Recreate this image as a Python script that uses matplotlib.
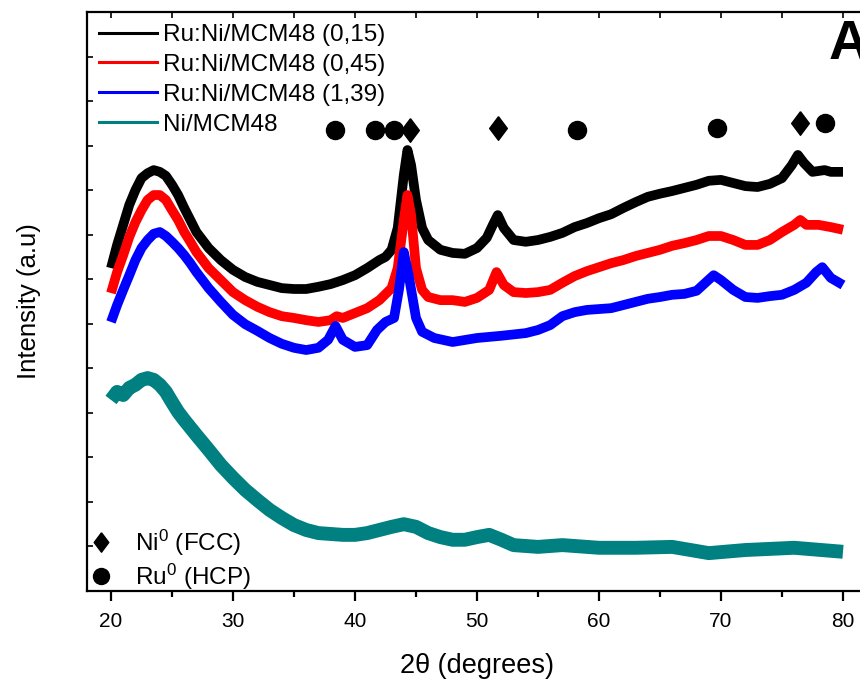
import numpy as np
import matplotlib
matplotlib.use("Agg")
import matplotlib.pyplot as plt
from matplotlib.lines import Line2D

plt.rcParams['font.family'] = ['Liberation Sans', 'DejaVu Sans']
plt.rcParams['mathtext.fontset'] = 'custom'
plt.rcParams['mathtext.rm'] = 'Liberation Sans'
plt.rcParams['mathtext.it'] = 'Liberation Sans:italic'

# --- data (2theta in degrees, intensity in a.u.) ---
x_black = [20.0, 20.5, 21.0, 21.5, 22.0, 22.5, 23.0, 23.5, 24.0, 24.5, 25.0, 25.5, 26.0,
           26.5, 27.0, 28.0, 29.0, 30.0, 31.0, 32.0, 33.0, 34.0, 35.0, 36.0, 37.0, 38.0,
           39.0, 40.0, 41.0, 42.0, 42.5, 43.0, 43.5, 44.0, 44.3, 44.6, 45.0, 45.5, 46.0,
           47.0, 48.0, 49.0, 50.0, 50.8, 51.3, 51.7, 52.2, 53.0, 54.0, 55.0, 56.0, 57.0,
           58.0, 59.0, 60.0, 61.0, 62.0, 63.0, 64.0, 65.0, 66.0, 67.0, 68.0, 69.0, 70.0,
           71.0, 72.0, 73.0, 74.0, 75.0, 75.8, 76.3, 76.8, 77.5, 78.5, 79.0, 80.0]
y_black = [7.25, 7.77, 8.22, 8.67, 9.00, 9.27, 9.38, 9.45, 9.41, 9.32, 9.12, 8.89, 8.60,
           8.33, 8.06, 7.70, 7.43, 7.21, 7.05, 6.94, 6.87, 6.80, 6.78, 6.78, 6.83, 6.89,
           6.98, 7.09, 7.25, 7.43, 7.50, 7.66, 8.15, 9.34, 9.90, 9.56, 8.78, 8.15, 7.88,
           7.66, 7.59, 7.57, 7.70, 7.93, 8.22, 8.44, 8.15, 7.88, 7.84, 7.88, 7.95, 8.04,
           8.17, 8.26, 8.37, 8.46, 8.60, 8.73, 8.85, 8.92, 8.98, 9.05, 9.12, 9.21, 9.23,
           9.16, 9.09, 9.07, 9.14, 9.27, 9.56, 9.79, 9.61, 9.41, 9.45, 9.41, 9.41]

x_red = [20.0, 20.5, 21.0, 21.5, 22.0, 22.5, 23.0, 23.5, 24.0, 24.5, 25.0, 25.5, 26.0,
         26.5, 27.0, 28.0, 29.0, 30.0, 31.0, 32.0, 33.0, 34.0, 35.0, 36.0, 37.0, 38.0,
         38.5, 39.0, 40.0, 41.0, 42.0, 43.0, 43.5, 44.0, 44.3, 44.6, 45.0, 45.5, 46.0,
         47.0, 48.0, 49.0, 50.0, 51.0, 51.6, 52.2, 53.0, 54.0, 55.0, 56.0, 57.0, 58.0,
         59.0, 60.0, 61.0, 62.0, 63.0, 64.0, 65.0, 66.0, 67.0, 68.0, 69.0, 70.0, 71.0,
         72.0, 73.0, 74.0, 75.0, 76.0, 76.5, 77.0, 78.0, 79.0, 80.0]
y_red = [6.69, 7.16, 7.54, 7.95, 8.28, 8.55, 8.78, 8.89, 8.89, 8.78, 8.55, 8.33, 8.06,
         7.84, 7.61, 7.25, 6.98, 6.71, 6.53, 6.38, 6.26, 6.17, 6.13, 6.08, 6.04, 6.08,
         6.17, 6.13, 6.24, 6.35, 6.53, 6.80, 7.25, 8.33, 8.89, 8.44, 7.25, 6.76, 6.60,
         6.53, 6.53, 6.49, 6.58, 6.76, 7.16, 6.87, 6.71, 6.69, 6.71, 6.76, 6.92, 7.07,
         7.18, 7.27, 7.36, 7.43, 7.52, 7.59, 7.66, 7.75, 7.81, 7.88, 7.97, 7.97, 7.88,
         7.77, 7.77, 7.88, 8.06, 8.22, 8.33, 8.22, 8.22, 8.17, 8.11]

x_blue = [20.0, 20.5, 21.0, 21.5, 22.0, 22.5, 23.0, 23.5, 24.0, 24.5, 25.0, 25.5, 26.0,
          26.5, 27.0, 28.0, 29.0, 30.0, 31.0, 32.0, 33.0, 34.0, 35.0, 36.0, 37.0, 37.8,
          38.4, 39.0, 40.0, 41.0, 41.8, 42.5, 43.2, 43.6, 44.0, 44.4, 45.0, 45.5, 46.5,
          48.0, 50.0, 52.0, 54.0, 55.0, 56.0, 57.0, 58.0, 59.0, 60.0, 61.0, 62.0, 63.0,
          64.0, 65.0, 66.0, 67.0, 68.0, 68.8, 69.4, 70.0, 71.0, 72.0, 73.0, 74.0, 75.0,
          76.0, 77.0, 77.8, 78.3, 79.0, 80.0]
y_blue = [6.04, 6.42, 6.76, 7.09, 7.43, 7.70, 7.88, 8.02, 8.06, 7.97, 7.84, 7.70, 7.54,
          7.36, 7.16, 6.80, 6.49, 6.20, 5.99, 5.84, 5.68, 5.55, 5.46, 5.41, 5.46, 5.64,
          5.95, 5.64, 5.48, 5.52, 5.86, 6.04, 6.13, 6.76, 7.61, 7.09, 6.13, 5.82, 5.68,
          5.59, 5.68, 5.73, 5.79, 5.86, 5.97, 6.17, 6.26, 6.31, 6.33, 6.35, 6.42, 6.49,
          6.56, 6.60, 6.65, 6.67, 6.74, 6.94, 7.09, 6.98, 6.76, 6.60, 6.58, 6.62, 6.65,
          6.76, 6.92, 7.16, 7.27, 7.03, 6.87]

x_teal = [20.0, 20.5, 21.0, 21.5, 22.0, 22.5, 23.0, 23.5, 24.0, 24.5, 25.0, 25.5, 26.0,
          27.0, 28.0, 29.0, 30.0, 31.0, 32.0, 33.0, 34.0, 35.0, 36.0, 37.0, 38.0, 39.0,
          40.0, 41.0, 42.0, 43.0, 44.0, 45.0, 46.0, 47.0, 48.0, 49.0, 50.0, 51.0, 52.0,
          53.0, 55.0, 57.0, 60.0, 63.0, 66.0, 69.0, 72.0, 76.0, 80.0]
y_teal = [4.29, 4.47, 4.40, 4.56, 4.63, 4.74, 4.78, 4.74, 4.63, 4.47, 4.24, 4.02, 3.84,
          3.50, 3.17, 2.83, 2.54, 2.27, 2.04, 1.82, 1.64, 1.48, 1.37, 1.30, 1.28, 1.26,
          1.26, 1.30, 1.37, 1.44, 1.50, 1.44, 1.30, 1.21, 1.15, 1.15, 1.21, 1.26, 1.15,
          1.03, 0.99, 1.03, 0.97, 0.97, 0.99, 0.85, 0.92, 0.97, 0.88]

labels = ['Ru:Ni/MCM48 (0,15)', 'Ru:Ni/MCM48 (0,45)', 'Ru:Ni/MCM48 (1,39)', 'Ni/MCM48']
colors = ['#000000', '#ff0000', '#0000ff', '#008080']

# reflection markers
ni_x = [44.5, 51.7, 76.5]
ni_y = [10.35, 10.40, 10.51]
ru_x = [38.4, 41.6, 43.2, 58.2, 69.7, 78.5]
ru_y = [10.35, 10.35, 10.35, 10.35, 10.40, 10.51]

diamond = [(0, 1), (0.75, 0), (0, -1), (-0.75, 0), (0, 1)]

fig = plt.figure(figsize=(8.6, 6.8), dpi=100)
ax = fig.add_axes([0.1007, 0.1309, 0.9079, 0.8515])

series = [(x_black, y_black), (x_red, y_red), (x_blue, y_blue), (x_teal, y_teal)]
widths = [7, 7, 7, 10]
handles = []
for (xs, ys), c, lab, lw in zip(series, colors, labels, widths):
    ax.plot(xs, ys, color=c, lw=lw, solid_joinstyle='round', solid_capstyle='butt')
    handles.append(Line2D([], [], color=c, lw=2.2, label=lab))

ax.plot(ni_x, ni_y, linestyle='none', marker=diamond, ms=17, color='black')
ax.plot(ru_x, ru_y, linestyle='none', marker='o', ms=13, color='black')

ax.set_xlim(18, 82)
ax.set_ylim(0, 13)
ax.set_xticks([20, 30, 40, 50, 60, 70, 80])
ax.set_xticks([25, 35, 45, 55, 65, 75], minor=True)
ax.set_yticks(np.arange(0, 14, 1))
ax.set_yticklabels([])

for s in ax.spines.values():
    s.set_linewidth(1.6)

ax.tick_params(axis='x', which='major', direction='out', length=7, width=1.6,
               labelsize=15, pad=8, top=False)
ax.tick_params(axis='x', which='minor', direction='out', length=4.5, width=1.6, top=False)
ax.tick_params(axis='y', which='both', direction='in', length=4, width=1.2, right=False)

# top ticks drawn inward every 5 degrees
sec = ax.secondary_xaxis('top')
sec.set_xticks([20, 25, 30, 35, 40, 45, 50, 55, 60, 65, 70, 75, 80])
sec.tick_params(direction='in', length=4, width=1.2, labeltop=False)
sec.spines['top'].set_visible(False)

ax.set_xlabel('2θ (degrees)', fontsize=19.5, labelpad=16)
ax.set_ylabel('Intensity (a.u)', fontsize=18.5, labelpad=29)

leg1 = ax.legend(handles=handles, loc='upper left', bbox_to_anchor=(0.0, 1.0),
                 frameon=False, fontsize=17.5, handlelength=2.4, handletextpad=0.25,
                 labelspacing=0.32, borderaxespad=0.3, borderpad=0.2)
ax.add_artist(leg1)

mk_handles = [Line2D([], [], linestyle='none', marker=diamond, ms=14, color='black',
                     label=r'Ni$^{\mathrm{0}}$ (FCC)'),
              Line2D([], [], linestyle='none', marker='o', ms=11.5, color='black',
                     label=r'Ru$^{\mathrm{0}}$ (HCP)')]
ax.legend(handles=mk_handles, loc='lower left', bbox_to_anchor=(0.0, -0.01),
          frameon=False, fontsize=17.5, handlelength=0.8, handletextpad=1.0,
          labelspacing=0.17, borderaxespad=0.0, borderpad=0.2)

fig.text(0.963, 0.934, 'A', fontsize=40, fontweight='bold', ha='left', va='center')

fig.savefig('out.png', dpi=100)
